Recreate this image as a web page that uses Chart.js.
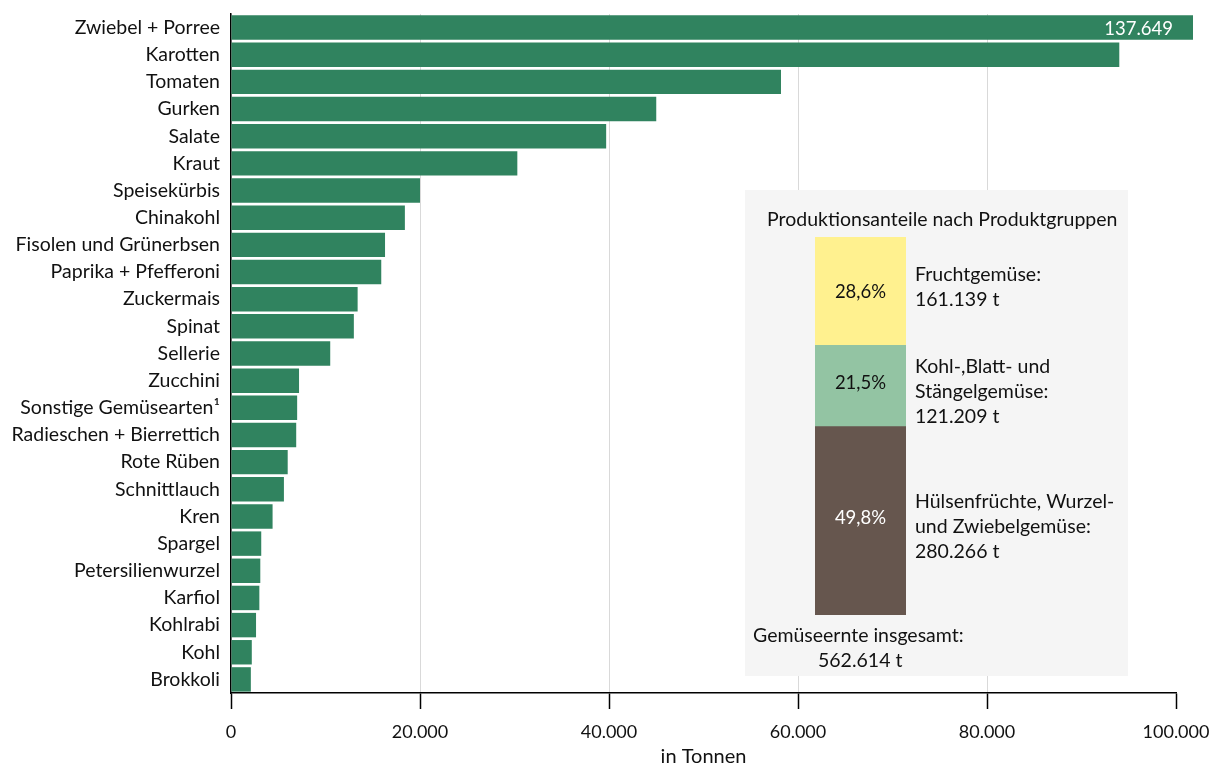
<!DOCTYPE html>
<html lang="de">
<head>
<meta charset="utf-8">
<title>Gemüseernte</title>
<script src="https://cdn.jsdelivr.net/npm/chart.js@4"></script>
<style>
  body { margin: 0; background: #fff; }
  #wrap { position: relative; width: 1213px; height: 769px; }
  #harvestChart { position: absolute; left: 0; top: 0; }
  #groupChart { position: absolute; left: 745px; top: 190px; background: #f5f5f5; }
</style>
</head>
<body>
<div id="wrap">
  <canvas id="harvestChart" width="1213" height="769"></canvas>
  <canvas id="groupChart" width="383" height="486"></canvas>
</div>
<script>
// Erntemengen je Gemüseart (t)
const categories = [
    'Zwiebel + Porree', 'Karotten', 'Tomaten', 'Gurken', 'Salate', 'Kraut',
    'Speisekürbis', 'Chinakohl', 'Fisolen und Grünerbsen', 'Paprika + Pfefferoni',
    'Zuckermais', 'Spinat', 'Sellerie', 'Zucchini', 'Sonstige Gemüsearten¹',
    'Radieschen + Bierrettich', 'Rote Rüben', 'Schnittlauch', 'Kren', 'Spargel',
    'Petersilienwurzel', 'Karfiol', 'Kohlrabi', 'Kohl', 'Brokkoli'
];
const tonnes = [
    137649, 94000, 58200, 45000, 39700, 30300,
    20000, 18400, 16300, 15900,
    13400, 13000, 10500, 7200, 7000,
    6900, 6000, 5600, 4400, 3200,
    3100, 3000, 2650, 2200, 2100
];
const xTicks = [0, 20000, 40000, 60000, 80000, 100000];

// Produktgruppen (Anteile in %, Mengen in t), von unten nach oben gestapelt
const groupLabels = [
    ['Hülsenfrüchte, Wurzel-', 'und Zwiebelgemüse:'],
    ['Kohl-,Blatt- und', 'Stängelgemüse:'],
    ['Fruchtgemüse:']
];
const groupShares = [49.8, 21.5, 28.6];
const groupTonnes = [280266, 121209, 161139];

const FONT = "Lato, 'Open Sans', sans-serif";
const fmt = v => String(Math.round(v)).replace(/\B(?=(\d{3})+(?!\d))/g, '.');
const pct = v => v.toFixed(1).replace('.', ',') + '%';

// Wert am ersten (abgeschnittenen) Balken
const topValueLabel = {
    id: 'topValueLabel',
    afterDatasetsDraw(chart) {
        const bar = chart.getDatasetMeta(0).data[0];
        const end = Math.min(bar.x, chart.chartArea.right + 17);
        const c = chart.ctx;
        c.save();
        c.fillStyle = '#fff';
        c.font = '18.5px ' + FONT;
        c.textAlign = 'right';
        c.textBaseline = 'middle';
        c.fillText(fmt(tonnes[0]), end - 20, bar.y + 1);
        c.restore();
    }
};

new Chart(document.getElementById('harvestChart'), {
    type: 'bar',
    data: {
        labels: categories,
        datasets: [{
            data: tonnes,
            backgroundColor: '#30835f',
            barPercentage: 0.9,
            categoryPercentage: 1,
            clip: { left: 0, top: 0, right: 17, bottom: 0 }
        }]
    },
    options: {
        indexAxis: 'y',
        responsive: false,
        animation: false,
        layout: { padding: { top: 14, right: 37, left: 0, bottom: 0 } },
        plugins: { legend: { display: false }, tooltip: { enabled: false } },
        scales: {
            x: {
                min: 0,
                max: xTicks[xTicks.length - 1],
                afterBuildTicks: s => { s.ticks = xTicks.map(v => ({ value: v })); },
                afterFit: s => { s.height = 76; s.paddingLeft = 0; s.paddingRight = 0; },
                ticks: { callback: v => fmt(v), color: '#111', padding: 12, font: { family: FONT, size: 18 } },
                grid: {
                    color: c => (c.tick && c.tick.value === 100000) ? 'rgba(0,0,0,0)' : '#d9d9d9',
                    tickColor: '#000',
                    tickLength: 16,
                    tickWidth: 1.5
                },
                border: { color: '#000', width: 1.5 },
                title: { display: true, text: 'in Tonnen', color: '#111', padding: { top: 0, bottom: 0 }, font: { family: FONT, size: 20 } }
            },
            y: {
                afterFit: s => { s.width = 231; s.paddingTop = 0; s.paddingBottom = 0; },
                grid: { display: true, color: 'rgba(0,0,0,0)', drawTicks: false },
                border: { color: '#000', width: 1.5 },
                ticks: { color: '#111', padding: 11, font: { family: FONT, size: 19.5 } }
            }
        }
    },
    plugins: [topValueLabel]
});

// Beschriftungen der Produktgruppen
const groupText = {
    id: 'groupText',
    afterDatasetsDraw(chart) {
        const c = chart.ctx;
        c.save();
        c.font = '19.5px ' + FONT;
        c.textBaseline = 'middle';
        c.fillStyle = '#111';
        c.textAlign = 'left';
        c.fillText('Produktionsanteile nach Produktgruppen', 22, 30);
        groupShares.forEach((share, i) => {
            const bar = chart.getDatasetMeta(i).data[0];
            const mid = (bar.y + bar.base) / 2;
            c.textAlign = 'center';
            c.fillStyle = i === 0 ? '#fff' : '#111';
            c.font = '18.5px ' + FONT;
            c.fillText(pct(share), bar.x, mid + (i === 2 ? 1 : -3));
            c.font = '19.5px ' + FONT;
            const lines = groupLabels[i].concat(fmt(groupTonnes[i]) + ' t');
            const lh = 25;
            const y0 = mid - (lines.length - 1) * lh / 2 + (i === 2 ? -4 : 6);
            c.textAlign = 'left';
            c.fillStyle = '#111';
            lines.forEach((t, k) => c.fillText(t, bar.x + bar.width / 2 + 9, y0 + k * lh));
        });
        const total = groupTonnes.reduce((a, b) => a + b, 0);
        c.fillText('Gemüseernte insgesamt:', 8, 446);
        c.fillText(fmt(total) + ' t', 73, 471);
        c.restore();
    }
};

new Chart(document.getElementById('groupChart'), {
    type: 'bar',
    data: {
        labels: [''],
        datasets: groupShares.map((share, i) => ({
            data: [share],
            backgroundColor: ['#66564e', '#93c4a3', '#fff18f'][i],
            barPercentage: 1,
            categoryPercentage: 1
        }))
    },
    options: {
        responsive: false,
        animation: false,
        layout: { padding: { left: 70, right: 222, top: 47, bottom: 61 } },
        plugins: { legend: { display: false }, tooltip: { enabled: false } },
        scales: {
            x: { stacked: true, display: false },
            y: { stacked: true, display: false, min: 0, max: groupShares.reduce((a, b) => a + b, 0) }
        }
    },
    plugins: [groupText]
});
</script>
</body>
</html>
